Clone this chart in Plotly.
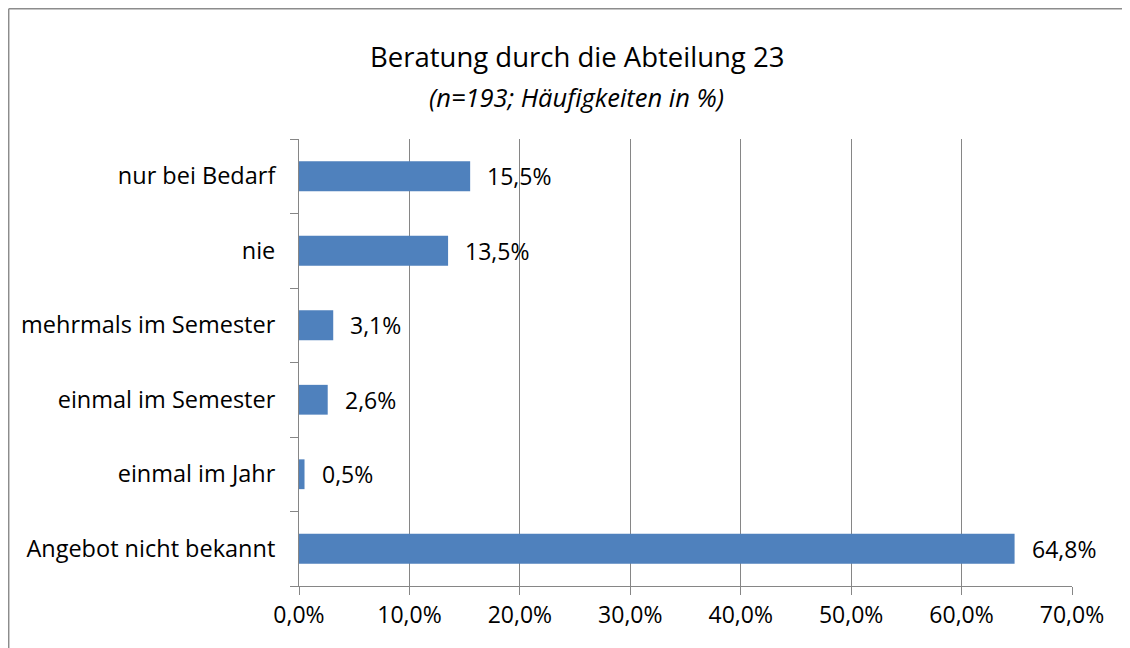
import plotly.graph_objects as go

categories = ["Angebot nicht bekannt", "einmal im Jahr", "einmal im Semester",
              "mehrmals im Semester", "nie", "nur bei Bedarf"]
values = [64.8, 0.5, 2.6, 3.1, 13.5, 15.5]
x_ticks = [0, 10, 20, 30, 40, 50, 60, 70]

title_text = "Beratung durch die Abteilung 23"
subtitle_text = "(n=193; Häufigkeiten in %)"

FONT = "Open Sans"
GRID = "#868686"

# page body has an 8px margin; figure is placed at (8, 8) in the window
OFF = 8
W, H = 1130 - OFF, 648 - OFF
L, T = 299 - OFF, 139 - OFF
R = OFF + W - 1072
B = OFF + H - 586
pw, ph = W - L - R, H - T - B


def px_x(p):  # window pixel -> paper x
    return (p - OFF - L) / pw


def px_y(p):  # window pixel -> paper y
    return (H - B - (p - OFF)) / ph


def fmt(v):
    return f"{v:.1f}%".replace(".", ",")


fig = go.Figure()
fig.add_trace(go.Bar(
    x=values, y=categories, orientation="h",
    marker=dict(color="#4F81BD", line=dict(width=0)),
    width=0.4,
    hoverinfo="skip",
))

for c, v in zip(categories, values):
    fig.add_annotation(
        x=v, y=c, xref="x", yref="y",
        text=fmt(v),
        showarrow=False, xanchor="left", xshift=15,
        font=dict(family=FONT, size=23, color="black"),
    )

fig.add_annotation(
    x=px_x(577), y=px_y(57), xref="paper", yref="paper",
    text=title_text, showarrow=False, xanchor="center", yanchor="middle",
    font=dict(family=FONT, size=27.5, color="black"),
)
fig.add_annotation(
    x=px_x(576), y=px_y(97), xref="paper", yref="paper",
    text=f"<i>{subtitle_text}</i>", showarrow=False, xanchor="center", yanchor="middle",
    font=dict(family=FONT, size=25.5, color="black"),
)

# outer chart border (only top and left edges are inside the visible window)
BORDER = dict(color="#8c8c8c", width=1.5)
fig.add_shape(type="line", xref="paper", yref="paper",
              x0=px_x(8.7), x1=px_x(1130), y0=px_y(8.7), y1=px_y(8.7),
              line=BORDER, layer="below")
fig.add_shape(type="line", xref="paper", yref="paper",
              x0=px_x(8.7), x1=px_x(8.7), y0=px_y(8.7), y1=px_y(648),
              line=BORDER, layer="below")

fig.update_layout(
    width=W, height=H,
    margin=dict(l=L, r=R, t=T, b=B, pad=0),
    paper_bgcolor="white", plot_bgcolor="white",
    showlegend=False,
    font=dict(family=FONT, size=23, color="black"),
    xaxis=dict(
        range=[0, 70], tickvals=x_ticks, ticktext=[fmt(t) for t in x_ticks],
        showgrid=True, gridcolor=GRID, gridwidth=1,
        showline=True, linecolor=GRID, linewidth=1,
        ticks="outside", ticklen=8, tickcolor=GRID, tickwidth=1,
        zeroline=False, fixedrange=True,
        tickfont=dict(family=FONT, size=23, color="black"),
    ),
    yaxis=dict(
        type="category", categoryorder="array", categoryarray=categories,
        tickson="boundaries", showgrid=False,
        showline=True, linecolor=GRID, linewidth=1,
        ticks="outside", ticklen=8, tickcolor=GRID, tickwidth=1,
        ticklabelstandoff=18, zeroline=False, fixedrange=True,
        tickfont=dict(family=FONT, size=23.5, color="black"),
    ),
)

fig.write_html("out.html")
